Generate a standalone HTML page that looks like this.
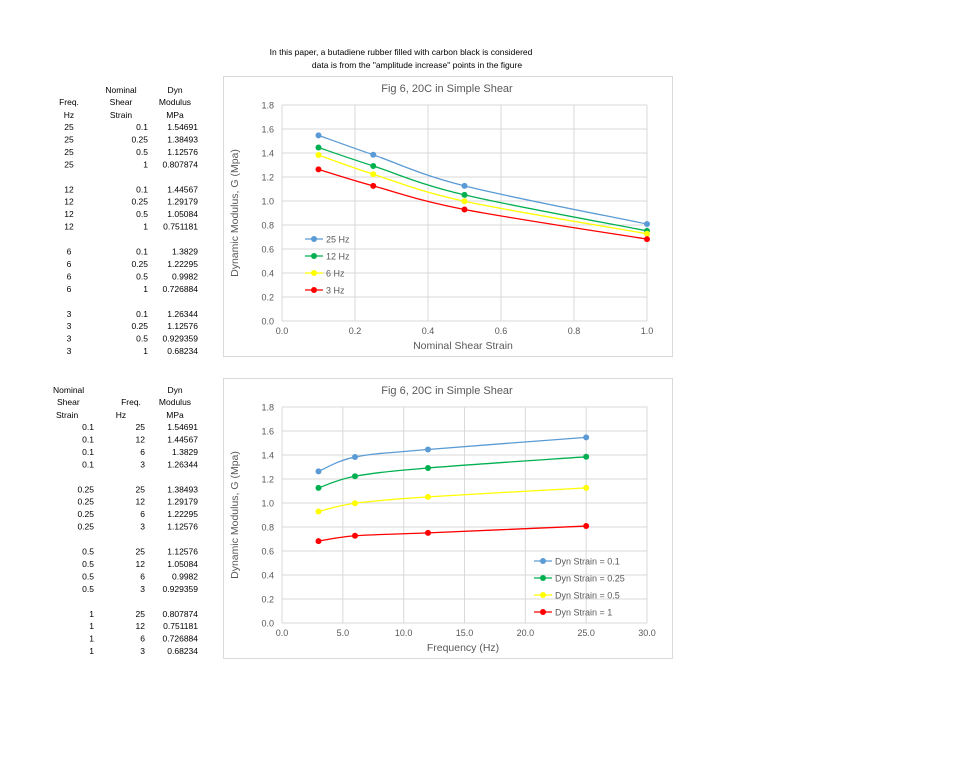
<!DOCTYPE html>
<html><head><meta charset="utf-8"><style>
html,body{margin:0;padding:0;background:#fff;}
svg{display:block;font-family:"Liberation Sans",sans-serif;}
</style></head><body>
<svg id="s" width="960" height="769" xmlns="http://www.w3.org/2000/svg">
<text x="401" y="55" font-size="8.5" text-anchor="middle" fill="#000">In this paper, a butadiene rubber filled with carbon black is considered</text>
<text x="417" y="68" font-size="8.5" text-anchor="middle" fill="#000">data is from the "amplitude increase" points in the figure</text>
</svg>
<script>
var s=document.getElementById('s'),NS='http://www.w3.org/2000/svg',h='';
function t(x,y,str,a,sz,fill,extra){h+='<text x="'+x+'" y="'+y+'" font-size="'+(sz||8.5)+'" text-anchor="'+(a||'start')+'" fill="'+(fill||'#000')+'" '+(extra||'')+'>'+str+'</text>';}
var mod={25:[1.54691,1.38493,1.12576,0.807874],12:[1.44567,1.29179,1.05084,0.751181],6:[1.3829,1.22295,0.9982,0.726884],3:[1.26344,1.12576,0.929359,0.68234]};
var modS={25:['1.54691','1.38493','1.12576','0.807874'],12:['1.44567','1.29179','1.05084','0.751181'],6:['1.3829','1.22295','0.9982','0.726884'],3:['1.26344','1.12576','0.929359','0.68234']};
var strains=[0.1,0.25,0.5,1],sS=['0.1','0.25','0.5','1'],freqs=[25,12,6,3];
var col={25:'#5b9bd5',12:'#00b050',6:'#ffff00',3:'#ff0000'};
var col2=['#5b9bd5','#00b050','#ffff00','#ff0000'];
// table 1
t(121,93,'Nominal','middle');t(175,93,'Dyn','middle');
t(69,105,'Freq.','middle');t(121,105,'Shear','middle');t(175,105,'Modulus','middle');
t(69,118,'Hz','middle');t(121,118,'Strain','middle');t(175,118,'MPa','middle');
freqs.forEach(function(f,i){for(var j=0;j<4;j++){var y=130+(i*5+j)*12.45;t(69,y,f,'middle');t(148,y,sS[j],'end');t(198,y,modS[f][j],'end');}});
// table 2
t(53,393,'Nominal');t(175,393,'Dyn','middle');
t(57,405,'Shear');t(131,405,'Freq.','middle');t(175,405,'Modulus','middle');
t(56,418,'Strain');t(121,418,'Hz','middle');t(175,418,'MPa','middle');
strains.forEach(function(st,i){for(var j=0;j<4;j++){var y=430+(i*5+j)*12.45;var f=freqs[j];t(94,y,sS[i],'end');t(145,y,f,'end');t(198,y,modS[f][i],'end');}});
function spline(p){var d='M'+p[0][0]+','+p[0][1];for(var i=0;i<p.length-1;i++){var p0=p[i-1]||p[i],p1=p[i],p2=p[i+1],p3=p[i+2]||p2;var k=0.5/3;d+=' C'+(p1[0]+(p2[0]-p0[0])*k)+','+(p1[1]+(p2[1]-p0[1])*k)+' '+(p2[0]-(p3[0]-p1[0])*k)+','+(p2[1]-(p3[1]-p1[1])*k)+' '+p2[0]+','+p2[1];}return d;}
function chart(top,xmax,xstep,xlabel,title,series,leg){
 h+='<rect x="223.5" y="'+(top+0.5)+'" width="449" height="280" fill="#fff" stroke="#d9d9d9"/>';
 var x0=282,x1=647,y0=top+245,y1=top+29;
 t(447,top+16,title,'middle',11,'#595959');
 for(var i=0;i<=9;i++){var y=y0-(y0-y1)*i/9;h+='<line x1="'+x0+'" x2="'+x1+'" y1="'+y+'" y2="'+y+'" stroke="#d9d9d9"/>';t(274,y+3.5,(i*0.2).toFixed(1),'end',9,'#595959');}
 var nx=Math.round(xmax/xstep);
 for(var i=0;i<=nx;i++){var x=x0+(x1-x0)*i/nx;if(i>0)h+='<line x1="'+x+'" x2="'+x+'" y1="'+y1+'" y2="'+y0+'" stroke="#d9d9d9"/>';t(x,y0+13,(i*xstep).toFixed(1),'middle',9,'#595959');}
 h+='<line x1="'+x0+'" x2="'+x0+'" y1="'+y1+'" y2="'+y0+'" stroke="#d9d9d9"/>';
 t(463,y0+28,xlabel,'middle',10.5,'#595959');
 var cy=(y0+y1)/2;t(0,0,'Dynamic Modulus, G (Mpa)','middle',10.5,'#595959','transform="translate(238,'+cy+') rotate(-90)"');
 series.forEach(function(sr){var p=sr.pts.map(function(q){return[x0+(x1-x0)*q[0]/xmax,y0-(y0-y1)*q[1]/1.8];});
  h+='<path d="'+spline(p)+'" fill="none" stroke="'+sr.c+'" stroke-width="1.3"/>';
  p.forEach(function(q){h+='<circle cx="'+q[0]+'" cy="'+q[1]+'" r="3" fill="'+sr.c+'"/>';});});
 series.forEach(function(sr,i){var y=leg.y+i*leg.dy;h+='<line x1="'+leg.x+'" x2="'+(leg.x+18)+'" y1="'+y+'" y2="'+y+'" stroke="'+sr.c+'" stroke-width="1.3"/><circle cx="'+(leg.x+9)+'" cy="'+y+'" r="3" fill="'+sr.c+'"/>';t(leg.x+21,y+3.5,sr.n,'start',9,'#595959');});
}
chart(76,1,0.2,'Nominal Shear Strain','Fig 6, 20C in Simple Shear',freqs.map(function(f){return{c:col[f],n:f+' Hz',pts:strains.map(function(st,j){return[st,mod[f][j]];})};}),{x:305,y:239,dy:17});
chart(378,30,5,'Frequency (Hz)','Fig 6, 20C in Simple Shear',strains.map(function(st,i){return{c:col2[i],n:'Dyn Strain = '+sS[i],pts:[3,6,12,25].map(function(f){return[f,mod[f][i]];})};}),{x:534,y:561,dy:17});
s.insertAdjacentHTML('beforeend',h);
</script>
</body></html>
